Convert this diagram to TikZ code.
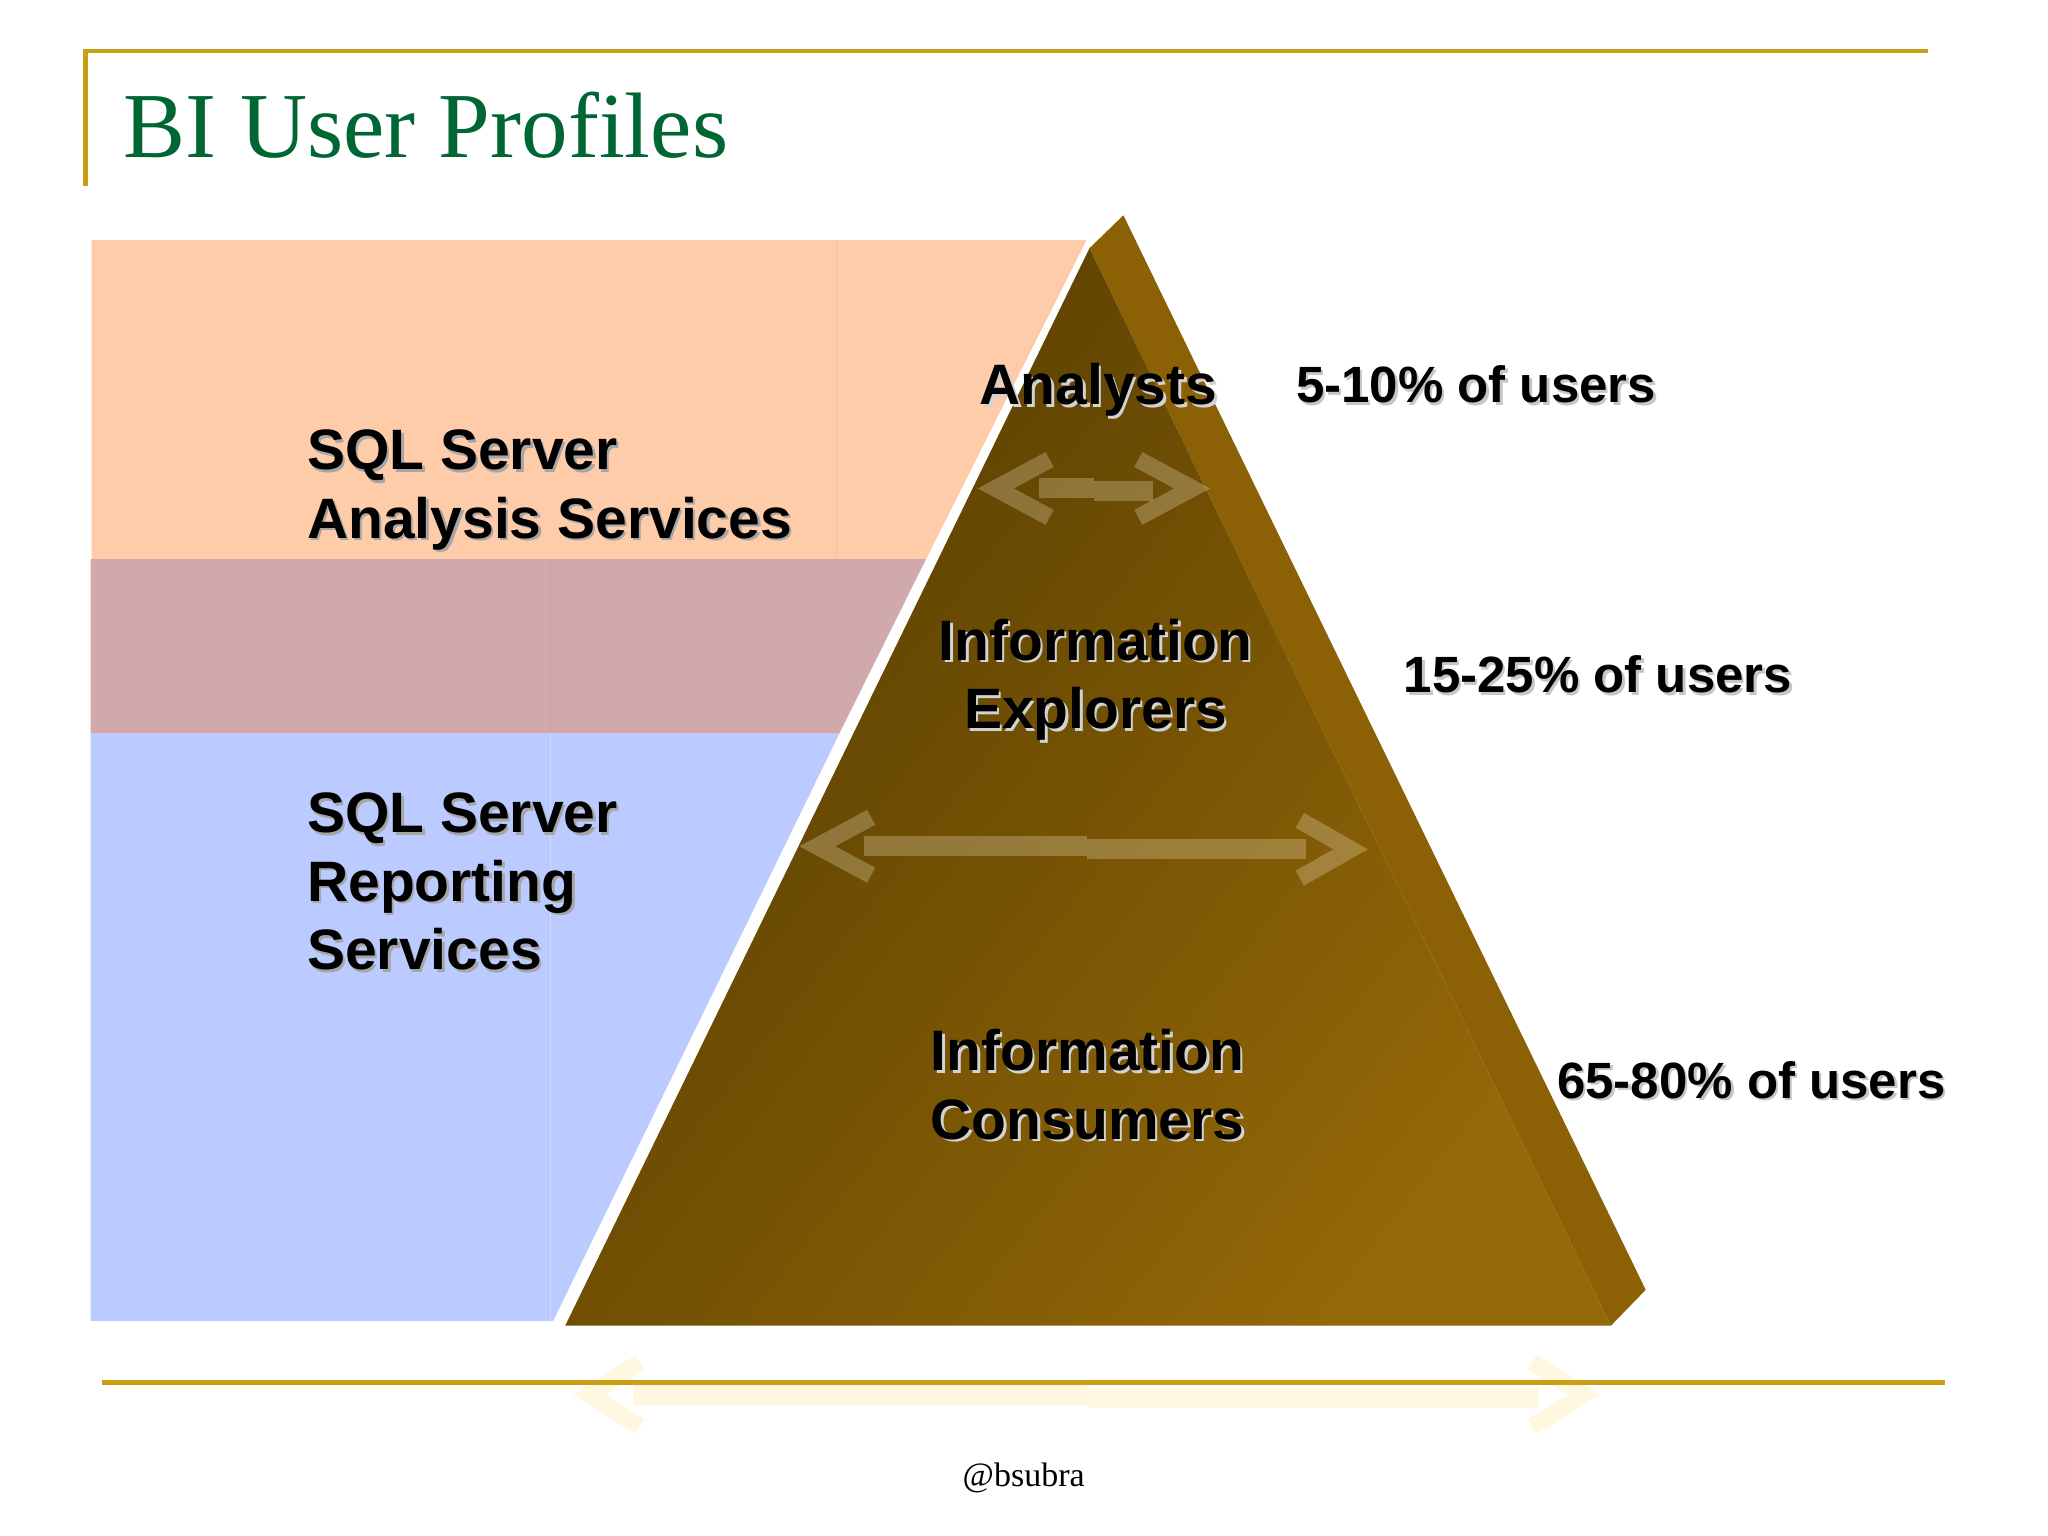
\documentclass[tikz,border=0pt]{standalone}
\usepackage{fontspec}
\setmainfont{Liberation Serif}
\setsansfont{Liberation Sans}
\usetikzlibrary{calc}
\definecolor{goldline}{HTML}{C99F15}
\definecolor{titlegreen}{HTML}{006633}
\definecolor{peachbox}{HTML}{FFCCAA}
\definecolor{mauvebox}{HTML}{CFA9AB}
\definecolor{bluebox}{HTML}{BBCBFF}
\definecolor{pyrdark}{HTML}{553D00}
\definecolor{pyrlight}{HTML}{956808}
\definecolor{pyrside}{HTML}{8C6005}
\definecolor{palearrow}{HTML}{FFF7E0}
\begin{document}
\begin{tikzpicture}[x=.9968pt,y=-.9968pt]
\tikzstyle{rule}=[draw=goldline,line width=4.5pt]
\tikzstyle{seam}=[line width=1pt,opacity=.3]
\tikzstyle{shaft}=[line width=20pt]
\tikzstyle{chevron}=[line width=17pt,miter limit=10]
\tikzstyle{lbl}=[inner sep=0pt,font=\sffamily\bfseries\fontsize{57}{68.5}\selectfont]
\tikzstyle{pct}=[inner sep=0pt,font=\sffamily\bfseries\fontsize{51}{60}\selectfont]
\useasboundingbox[fill=white] (0,0) rectangle (2054.6,1540.9);
% coloured bands behind the pyramid
\fill[peachbox] (92,241) -- (1090,241) -- (929,561) -- (92,561) -- cycle;
\fill[mauvebox] (91,561) -- (929,561) -- (842,736) -- (91,736) -- cycle;
\fill[bluebox] (91,736) -- (842,736) -- (555,1325) -- (91,1325) -- cycle;
\draw[seam,draw=red!30!peachbox] (839,241) -- (839,736);
\draw[seam,draw=red!25!mauvebox] (552,561) -- (552,736);
\draw[seam,draw=white] (552,736) -- (552,1325);
% pyramid
\fill[pyrside] (1127,216) -- (1651,1294) -- (1616,1330) -- (1093,249) -- cycle;
\shade[top color=pyrdark,bottom color=pyrlight,shading angle=52]
  (1093,249) -- (1616,1330) -- (567,1330) -- cycle;
% double arrows
\foreach \nm/\la/\lb/\ra/\rb/\ya/\yb/\dy/\sa/\sc/\sb/\colr/\op in
  {top/999/1053/1196/1142/490/490/29/1042/1098/1157/palearrow/.25,
   mid/820/874/1355/1304/849/852/29/867/1090/1310/palearrow/.25,
   low/591/642/1589/1537/1399/1399/32/635/1090/1543/palearrow/1}{
  \coordinate (\nm-l) at (\sa,\ya);
  \coordinate (\nm-c) at (\sc,\ya);
  \coordinate (\nm-d) at (\sc,\ya+3);
  \coordinate (\nm-r) at (\sb,\ya+3);
  \draw[shaft,draw=\colr,opacity=\op] (\nm-l) -- (\nm-c);
  \draw[shaft,draw=\colr,opacity=\op] (\nm-d) -- (\nm-r);
  \draw[chevron,draw=\colr,opacity=\op] (\lb,\ya-\dy) -- (\la,\ya) -- (\lb,\ya+\dy);
  \draw[chevron,draw=\colr,opacity=\op] (\rb,\yb-\dy) -- (\ra,\yb) -- (\rb,\yb+\dy);
}
% frame lines
\draw[rule] (86,187) -- (86,51) -- (1934,51);
\draw[rule] (102,1387) -- (1951,1387);
\node[inner sep=0pt,anchor=base west,text=titlegreen,font=\fontsize{93}{93}\selectfont] (title) at (124,158) {BI User Profiles};
\node[inner sep=0pt,anchor=base,font=\fontsize{34}{34}\selectfont] (handle) at (1027,1491) {@bsubra};
% labels with their shadow underneath
\foreach \nm/\px/\py/\anc/\al/\shc/\txt in
  {ssas/308/540/base west/left/gray!70/{SQL Server\\Analysis Services},
   ssrs/308/973/base west/left/gray!70/{SQL Server\\Reporting\\Services},
   analysts/1102/406/base/center/gray!35/{Analysts},
   explorers/1099/731/base/center/gray!35/{Information\\Explorers},
   consumers/1091/1143/base/center/gray!35/{Information\\Consumers}}{
  \node[lbl,anchor=\anc,align=\al,text=\shc] (\nm-shadow) at (\px+2.5,\py+2.5) {\txt};
  \node[lbl,anchor=\anc,align=\al] (\nm) at (\px,\py) {\txt};
}
\foreach \nm/\px/\py/\txt in
  {pcta/1300/404/{5-10\% of users},
   pctb/1408/695/{15-25\% of users},
   pctc/1562/1102/{65-80\% of users}}{
  \node[pct,anchor=base west,text=gray!45] (\nm-shadow) at (\px+2.5,\py+2.5) {\txt};
  \node[pct,anchor=base west] (\nm) at (\px,\py) {\txt};
}
\end{tikzpicture}
\end{document}
